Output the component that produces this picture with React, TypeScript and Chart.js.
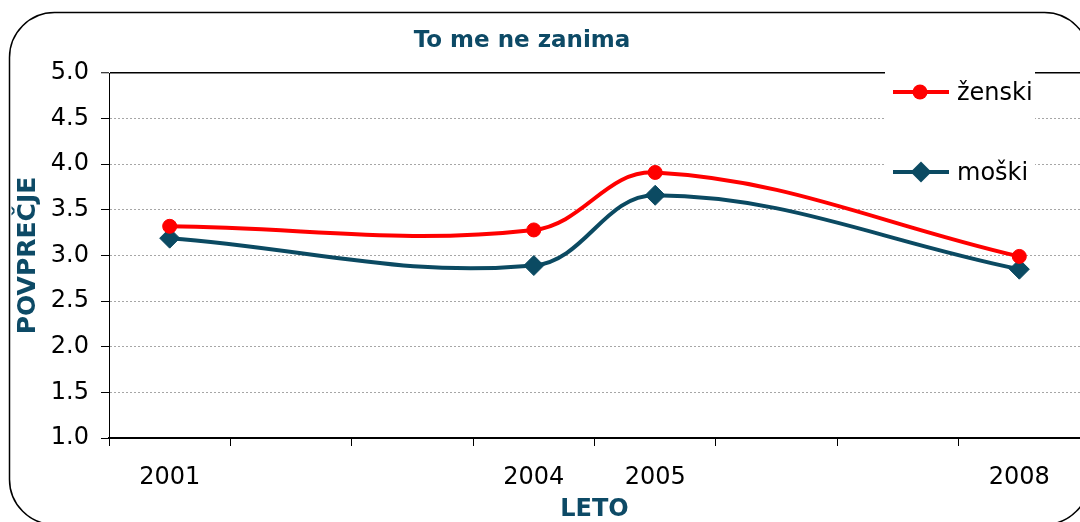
import React, { useEffect, useRef } from 'react';
import { Chart, registerables } from 'chart.js';

Chart.register(...registerables);

// ---- data ----
const years = ['2001', '', '', '2004', '2005', '', '', '2008'];
const zenski = [3.32, null, null, 3.28, 3.91, null, null, 2.99];
const moski = [3.19, null, null, 2.89, 3.66, null, null, 2.85];
const seriesNames = ['ženski', 'moški'];
const chartTitle = 'To me ne zanima';
const yAxisTitle = 'POVPREČJE';
const xAxisTitle = 'LETO';
const yMin = 1;
const yMax = 5;
const yStep = 0.5;

const RED = '#ff0000';
const TEAL = '#0b4a62';
const TITLE_TEAL = '#0d4a66';
const FONT = '"DejaVu Sans", Verdana, sans-serif';

const framePlugin = {
  id: 'frameAndTitle',
  beforeDraw(chart: any) {
    const ctx = chart.ctx;
    ctx.save();
    ctx.fillStyle = '#ffffff';
    ctx.fillRect(0, 0, chart.width, chart.height);
    ctx.beginPath();
    (ctx as any).roundRect(9.5, 12.5, 1080, 512, 45);
    ctx.lineWidth = 1.5;
    ctx.strokeStyle = '#000000';
    ctx.stroke();
    ctx.font = 'bold 23px ' + FONT;
    ctx.fillStyle = TITLE_TEAL;
    ctx.textAlign = 'center';
    ctx.textBaseline = 'alphabetic';
    ctx.fillText(chartTitle, 522, 47);
    ctx.restore();
  },
};

const legendPlugin = {
  id: 'customLegend',
  afterDatasetsDraw(chart: any) {
    const ctx = chart.ctx;
    ctx.save();
    ctx.fillStyle = '#ffffff';
    ctx.fillRect(885, 66, 150, 139);
    const items = [
      { name: seriesNames[0], color: RED, y: 92, style: 'circle' },
      { name: seriesNames[1], color: TEAL, y: 172, style: 'diamond' },
    ];
    for (const it of items) {
      ctx.strokeStyle = it.color;
      ctx.lineWidth = 4;
      ctx.beginPath();
      ctx.moveTo(893, it.y);
      ctx.lineTo(949, it.y);
      ctx.stroke();
      ctx.fillStyle = it.color;
      ctx.beginPath();
      if (it.style === 'circle') {
        ctx.arc(920, it.y, 7.5, 0, Math.PI * 2);
      } else {
        ctx.moveTo(921, it.y - 10.5);
        ctx.lineTo(931.5, it.y);
        ctx.lineTo(921, it.y + 10.5);
        ctx.lineTo(910.5, it.y);
        ctx.closePath();
      }
      ctx.fill();
      ctx.fillStyle = '#000000';
      ctx.font = '24px ' + FONT;
      ctx.textAlign = 'left';
      ctx.textBaseline = 'alphabetic';
      ctx.fillText(it.name, 957, it.y + 8);
    }
    ctx.restore();
  },
};

export default function App() {
  const ref = useRef<HTMLCanvasElement | null>(null);

  useEffect(() => {
    if (!ref.current) return;
    const chart = new Chart(ref.current, {
      type: 'line',
      data: {
        labels: years,
        datasets: [
          {
            label: seriesNames[0],
            data: zenski,
            borderColor: RED,
            backgroundColor: RED,
            borderWidth: 4,
            pointStyle: 'circle',
            pointRadius: 7,
            pointBorderWidth: 1,
            pointBackgroundColor: RED,
            pointBorderColor: RED,
            tension: 0.38,
            spanGaps: true,
          },
          {
            label: seriesNames[1],
            data: moski,
            borderColor: TEAL,
            backgroundColor: TEAL,
            borderWidth: 4,
            pointStyle: 'rectRot',
            pointRadius: 10,
            pointBorderWidth: 1,
            pointBackgroundColor: TEAL,
            pointBorderColor: TEAL,
            tension: 0.38,
            spanGaps: true,
          },
        ],
      },
      options: {
        responsive: false,
        animation: false,
        devicePixelRatio: 1,
        layout: { autoPadding: false, padding: { top: 73, right: 0, bottom: 0, left: 0 } },
        plugins: {
          legend: { display: false },
          tooltip: { enabled: false },
          title: { display: false },
        },
        scales: {
          x: {
            type: 'category',
            offset: true,
            grid: {
              offset: true,
              drawOnChartArea: false,
              drawTicks: true,
              tickLength: 8,
              tickColor: '#000000',
              tickWidth: 1,
            },
            border: { display: true, color: '#000000', width: 2 },
            ticks: {
              autoSkip: false,
              maxRotation: 0,
              minRotation: 0,
              color: '#000000',
              padding: 17,
              font: { family: FONT, size: 24 },
            },
            title: {
              display: true,
              text: xAxisTitle,
              color: TITLE_TEAL,
              font: { family: FONT, size: 24, weight: 'bold', lineHeight: 1 },
              padding: { top: 0, bottom: 0 },
            },
            afterFit(scale: any) {
              scale.height = 84;
              scale.paddingLeft = 0;
              scale.paddingRight = 0;
            },
          },
          y: {
            min: yMin,
            max: yMax,
            grid: {
              color: (c: any) => (c.tick && c.tick.value === yMax ? '#000000' : '#a6a6a6'),
              lineWidth: (c: any) => (c.tick && c.tick.value === yMax ? 1.5 : 1),
              drawTicks: true,
              tickLength: 8,
              tickColor: '#000000',
              tickWidth: 1,
            },
            border: {
              display: true,
              color: '#000000',
              width: 1,
              dash: (c: any) => (c.tick && c.tick.value === yMax ? [] : [2, 2]),
            },
            ticks: {
              stepSize: yStep,
              color: '#000000',
              padding: 12,
              font: { family: FONT, size: 24 },
              callback: (v: any) => Number(v).toFixed(1),
            },
            title: {
              display: true,
              text: yAxisTitle,
              color: TITLE_TEAL,
              font: { family: FONT, size: 25, weight: 'bold', lineHeight: 1 },
              padding: { top: 16, bottom: 0 },
            },
            afterFit(scale: any) {
              scale.width = 109;
              scale.paddingTop = 0;
              scale.paddingBottom = 0;
            },
          },
        },
      },
      plugins: [framePlugin, legendPlugin],
    } as any);
    return () => chart.destroy();
  }, []);

  return (
    <div style={{ position: 'fixed', left: 0, top: 0, width: 1080, height: 522 }}>
      <canvas ref={ref} width={1080} height={522} style={{ width: 1080, height: 522, display: 'block' }} />
    </div>
  );
}
